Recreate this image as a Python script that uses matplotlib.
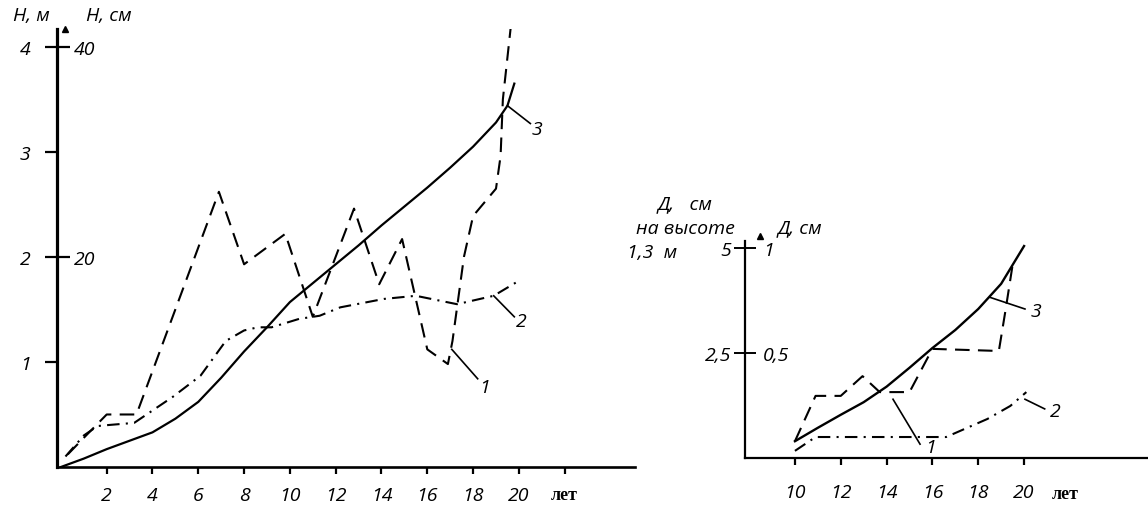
import matplotlib.pyplot as plt

plt.rcParams['font.family'] = ['Open Sans', 'DejaVu Sans']
plt.rcParams['font.style'] = 'italic'
plt.rcParams['font.size'] = 14

# левый график: высота, годы
h_years_1 = [0.3, 1.1, 2.0, 3.3, 6.9, 8.0, 9.8, 11.0, 12.8, 13.9, 14.9, 16.0, 16.9, 17.1, 17.6, 18.0, 19.0, 19.2, 19.3, 19.65]
h_cm_1 = [0.12, 0.3, 0.5, 0.5, 2.62, 1.93, 2.22, 1.43, 2.46, 1.74, 2.17, 1.12, 0.98, 1.2, 2.0, 2.39, 2.65, 2.96, 3.5, 4.2]

h_years_2 = [0.2, 1.0, 1.6, 2.1, 3.2, 4.9, 6.1, 7.2, 8.0, 8.6, 9.2, 10.4, 11.3, 12.2, 14.1, 15.5, 17.3, 18.9, 19.9]
h_m_2 = [0.1, 0.3, 0.39, 0.4, 0.42, 0.67, 0.87, 1.2, 1.3, 1.33, 1.33, 1.41, 1.44, 1.52, 1.6, 1.63, 1.55, 1.63, 1.76]

h_years_3 = [0, 1, 2, 3, 4, 5, 6, 7, 8, 9, 10, 11, 12, 13, 14, 15, 16, 17, 18, 19, 19.5, 19.8]
h_m_3 = [0, 0.08, 0.17, 0.25, 0.33, 0.46, 0.62, 0.85, 1.1, 1.33, 1.57, 1.75, 1.93, 2.11, 2.3, 2.48, 2.66, 2.85, 3.05, 3.28, 3.44, 3.65]

# правый график: диаметр
d_years_1 = [10, 10.9, 12, 12.95, 13.7, 15.0, 16.0, 18.9, 19.2, 19.5]
d_1 = [0.4, 1.48, 1.48, 1.95, 1.57, 1.57, 2.6, 2.55, 3.55, 4.6]

d_years_2 = [10, 10.9, 16.6, 18.4, 19.4, 20.1]
d_2 = [0.17, 0.5, 0.5, 0.93, 1.24, 1.57]

d_years_3 = [10, 11, 12, 13, 14, 15, 16, 17, 18, 19, 20]
d_3 = [0.4, 0.72, 1.03, 1.33, 1.7, 2.15, 2.62, 3.05, 3.55, 4.15, 5.05]

left_xticks = [2, 4, 6, 8, 10, 12, 14, 16, 18, 20, 22]
left_xlabels = ['2', '4', '6', '8', '10', '12', '14', '16', '18', '20', 'лет']
right_xticks = [10, 12, 14, 16, 18, 20]

dash = (0, (7, 4))
dashdot = (0, (6, 3, 1, 3))

fig = plt.figure(figsize=(11.48, 5.10), dpi=100)

# ---- левый ----
ax = fig.add_axes([57/1148, 42/510, 578/1148, 438/510])
ax.set_xlim(-0.17, 25.07)
ax.set_ylim(0, 4.17)
for s in ['top', 'right']:
    ax.spines[s].set_visible(False)
ax.spines['left'].set_linewidth(2.3)
ax.spines['bottom'].set_linewidth(1.9)

ax.plot(h_years_1, h_cm_1, color='k', lw=1.5, ls=dash)
ax.plot(h_years_2, h_m_2, color='k', lw=1.5, ls=dashdot)
ax.plot(h_years_3, h_m_3, color='k', lw=1.6)

ax.set_yticks([1, 2, 3, 4])
ax.set_yticklabels(['1', '2', '3', '4'])
ax.tick_params(axis='y', direction='out', length=9, width=1.6, pad=10)
ax.set_xticks(left_xticks)
ax.set_xticklabels(left_xlabels)
ax.tick_params(axis='x', direction='out', length=5, width=1.6, pad=9)
lab = ax.get_xticklabels()[-1]
lab.set_fontfamily('Liberation Serif')
lab.set_fontweight('bold')
lab.set_fontstyle('normal')
lab.set_fontsize(13)

tw = ax.twinx()
tw.set_ylim(0, 41.7)
tw.spines['right'].set_position(('axes', 0.0))
for s in tw.spines.values():
    s.set_visible(False)
tw.set_yticks([20, 40])
tw.set_yticklabels(['20', '40'])
tw.tick_params(axis='y', direction='out', length=9, width=1.6, pad=3)

ax.plot([0.17], [4.17], marker='^', ms=4, color='k', clip_on=False)
ax.text(-1.31, 4.3, 'H, м', ha='center', va='center')
ax.text(2.1, 4.3, 'H, см', ha='center', va='center')

ax.plot([17.07, 18.2], [1.12, 0.84], color='k', lw=1.2)
ax.text(18.5, 0.76, '1', ha='center', va='center')
ax.plot([18.9, 19.8], [1.63, 1.43], color='k', lw=1.2)
ax.text(20.1, 1.39, '2', ha='center', va='center')
ax.plot([19.5, 20.5], [3.44, 3.27], color='k', lw=1.2)
ax.text(20.8, 3.22, '3', ha='center', va='center')

# ---- правый ----
ax2 = fig.add_axes([745/1148, 51/510, 403/1148, 217/510])
ax2.set_xlim(7.82, 25.41)
ax2.set_ylim(0, 5.17)
for s in ['top', 'right']:
    ax2.spines[s].set_visible(False)
ax2.spines['left'].set_linewidth(1.6)
ax2.spines['bottom'].set_linewidth(1.6)

ax2.plot(d_years_1, d_1, color='k', lw=1.5, ls=dash)
ax2.plot(d_years_2, d_2, color='k', lw=1.5, ls=dashdot)
ax2.plot(d_years_3, d_3, color='k', lw=1.7)

ax2.set_yticks([2.5, 5])
ax2.set_yticklabels(['2,5', '5'])
ax2.tick_params(axis='y', direction='out', length=8, width=1.4, pad=2)
ax2.set_xticks(right_xticks)
ax2.tick_params(axis='x', direction='out', length=5, width=1.6, pad=13)

tw2 = ax2.twinx()
tw2.set_ylim(0, 5.17 / 5)
tw2.spines['right'].set_position(('axes', 0.0))
for s in tw2.spines.values():
    s.set_visible(False)
tw2.set_yticks([0.5, 1])
tw2.set_yticklabels(['0,5', '1'])
tw2.tick_params(axis='y', direction='out', length=8, width=1.4, pad=5)

ax2.plot([8.47], [5.3], marker='^', ms=4, color='k', clip_on=False)
ax2.text(5.2, 6.07, 'Д,   см', ha='center', va='center')
ax2.text(5.2, 5.48, 'на высоте', ha='center', va='center')
ax2.text(3.76, 4.9, '1,3  м', ha='center', va='center')
ax2.text(10.2, 5.5, 'Д, см', ha='center', va='center')
ax2.text(21.8, -0.85, 'лет', ha='center', va='center', fontfamily='Liberation Serif',
         fontweight='bold', fontstyle='normal', fontsize=13)

ax2.plot([14.28, 15.46], [1.40, 0.33], color='k', lw=1.2)
ax2.text(15.9, 0.26, '1', ha='center', va='center')
ax2.plot([20.04, 20.9], [1.40, 1.17], color='k', lw=1.2)
ax2.text(21.35, 1.12, '2', ha='center', va='center')
ax2.plot([18.5, 20.04], [3.83, 3.55], color='k', lw=1.2)
ax2.text(20.5, 3.5, '3', ha='center', va='center')

plt.savefig('out.png', dpi=100)
